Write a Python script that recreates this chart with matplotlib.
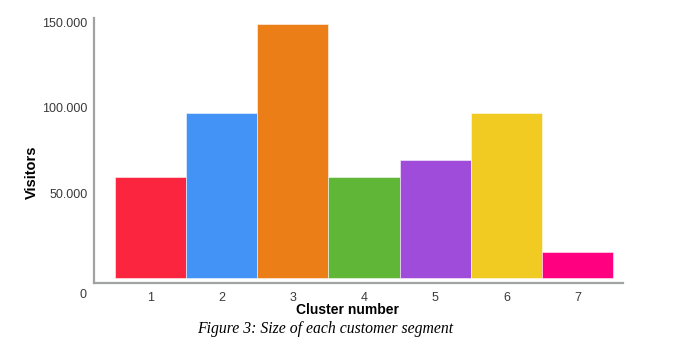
import matplotlib.pyplot as plt

# Tamaño de cada segmento de clientes
clusters = ['1', '2', '3', '4', '5', '6', '7']
visitantes = [59300, 97200, 149200, 59300, 69400, 97200, 15600]
colores = ['#FC2540', '#4293F5', '#EC7E18', '#60B636', '#A04CDB', '#F2CB22', '#FF0080']
ticks_y = [50000, 100000, 150000]
etiquetas_y = ['50.000', '100.000', '150.000']

fig = plt.figure(figsize=(6.95, 3.47), dpi=100)
ax = fig.add_axes([0.1357, 0.1853, 0.7603, 0.7617])

pos = list(range(1, len(clusters) + 1))
ax.bar(pos, visitantes, width=1.0, color=colores,
       edgecolor=(1, 1, 1, 0.6), linewidth=0.6, zorder=3)

ax.set_xlim(0.211, 7.633)
ax.set_ylim(-2580, 152600)
ax.set_xticks(pos)
ax.set_xticklabels(clusters)
ax.set_yticks(ticks_y)
ax.set_yticklabels(etiquetas_y)
ax.tick_params(length=0, labelsize=9, labelcolor='#3a3a3a',
               labelfontfamily='Liberation Sans')
ax.tick_params(axis='x', pad=7)
ax.tick_params(axis='y', pad=5)

for lado in ['top', 'right']:
    ax.spines[lado].set_visible(False)
for lado in ['left', 'bottom']:
    ax.spines[lado].set_color('#9FA3A3')
    ax.spines[lado].set_linewidth(1.6)

# origen "0" en la fila de etiquetas del eje x
fig.text(83 / 695, 1 - 295 / 347, '0', ha='center', va='center',
         fontsize=9, color='#3a3a3a', family='Liberation Sans')

fig.text(32 / 695, 1 - 172 / 347, 'Visitors', rotation=90, ha='center',
         va='center', fontsize=10.5, fontweight='bold', family='Liberation Sans')
fig.text(347.5 / 695, 1 - 310 / 347, 'Cluster number', ha='center',
         va='center', fontsize=10, fontweight='bold', family='Liberation Sans')
fig.text(324.7 / 695, 1 - 329 / 347, 'Figure 3: Size of each customer segment',
         ha='center', va='center', fontsize=11.3, style='italic',
         family='Liberation Serif')

plt.savefig('out.png', dpi=100)
